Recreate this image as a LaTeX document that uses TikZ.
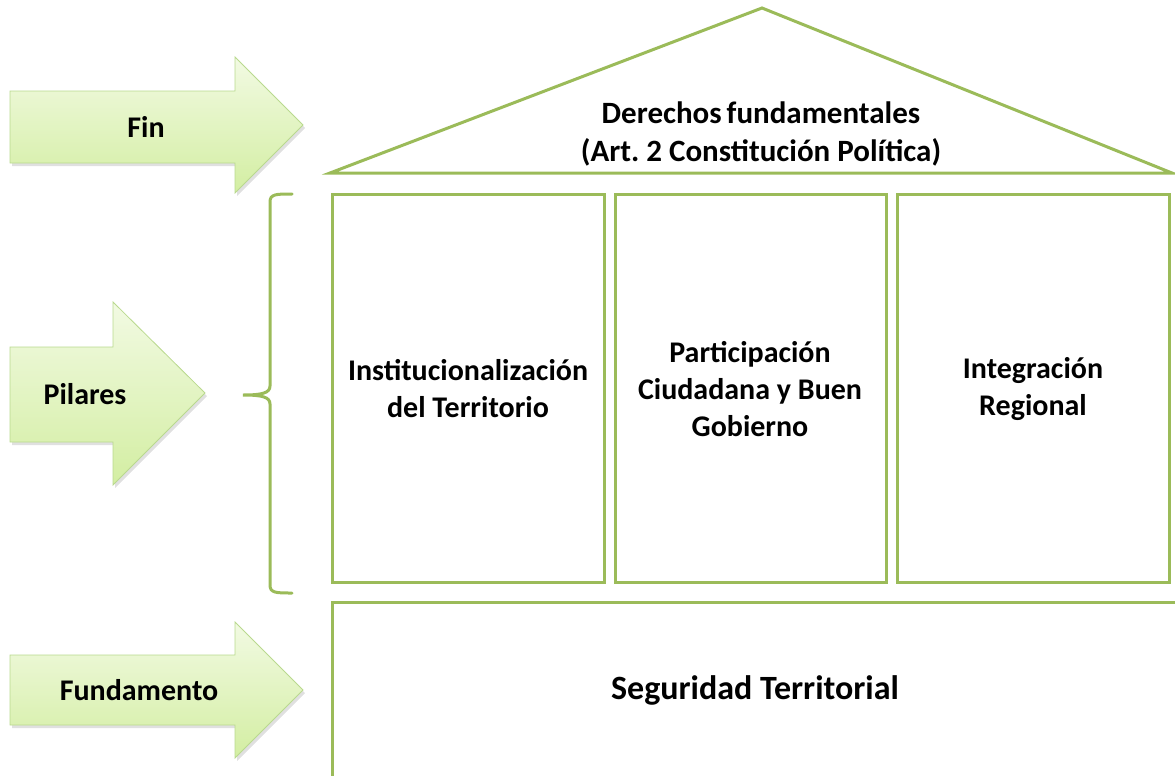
\documentclass[tikz,border=0pt]{standalone}
\usepackage{fontspec}
\setmainfont{Carlito}
\frenchspacing
\begin{document}
\begin{tikzpicture}[x=1pt,y=-1pt,
  line/.style={draw=houseGreen,line width=3pt},
  arrowshape/.style={draw=arrowBorder,line width=0.8pt,top color=arrowTop,bottom color=arrowBottom},
  shadowshape/.style={fill=black,opacity=0.12},
  lbl/.style={font=\fontsize{30}{37}\selectfont\bfseries,align=center,text=black},
  rooflbl/.style={font=\fontsize{31}{38}\selectfont\bfseries,align=center,text=black},
  baselbl/.style={font=\fontsize{34}{40}\selectfont\bfseries,align=center,text=black}]
\definecolor{houseGreen}{HTML}{9BBB59}
\definecolor{arrowBorder}{HTML}{B9D98E}
\definecolor{arrowTop}{HTML}{F2FAE3}
\definecolor{arrowBottom}{HTML}{D3EEA2}
\useasboundingbox (0,0) rectangle (1175,776);
\clip (0,0) rectangle (1175,776);
% arrows shadows
\begin{scope}[shift={(2,3)}]
\fill[shadowshape] (10,91)--(235,91)--(235,57)--(303,125)--(235,193)--(235,163)--(10,163)--cycle;
\fill[shadowshape] (10,347)--(113,347)--(113,302)--(205,393)--(113,485)--(113,442)--(10,442)--cycle;
\fill[shadowshape] (10,655)--(235,655)--(235,622)--(303,690)--(235,758)--(235,725)--(10,725)--cycle;
\end{scope}
% arrows
\path[arrowshape] (10,91)--(235,91)--(235,57)--(303,125)--(235,193)--(235,163)--(10,163)--cycle;
\path[arrowshape] (10,347)--(113,347)--(113,302)--(205,393)--(113,485)--(113,442)--(10,442)--cycle;
\path[arrowshape] (10,655)--(235,655)--(235,622)--(303,690)--(235,758)--(235,725)--(10,725)--cycle;
\node[lbl] (fin) at (146,127) {Fin};
\node[lbl] (pilares) at (85,394) {Pilares};
\node[lbl] (fundamento) at (139,690) {Fundamento};
% roof
\draw[line,line join=miter] (330,173)--(762,8)--(1172,173)--cycle;
\node[rooflbl] (roof) at (761,134) {Derechos\hspace{5pt}fundamentales\\(Art. 2 Constitución Política)};
% pillars
\draw[line] (332,194) rectangle (604,582);
\draw[line] (615,194) rectangle (886,582);
\draw[line] (897,194) rectangle (1169,582);
\node[lbl] (p1) at (468,389) {Institucionalización\\del Territorio};
\node[lbl] (p2) at (750,389) {Participación\\Ciudadana y Buen\\Gobierno};
\node[lbl] (p3) at (1033,389) {Integración\\Regional};
% base
\draw[line] (332,602) rectangle (1185,790);
\node[baselbl] (base) at (755,690) {Seguridad Territorial};
% brace
\draw[line,line cap=round] (292,194) .. controls (276,194) and (270,194) .. (270,202)
  -- (270,386) .. controls (270,393) and (262,395) .. (243,395)
  .. controls (262,395) and (270,397) .. (270,404)
  -- (270,585) .. controls (270,593) and (276,593) .. (292,593);
\end{tikzpicture}
\end{document}
